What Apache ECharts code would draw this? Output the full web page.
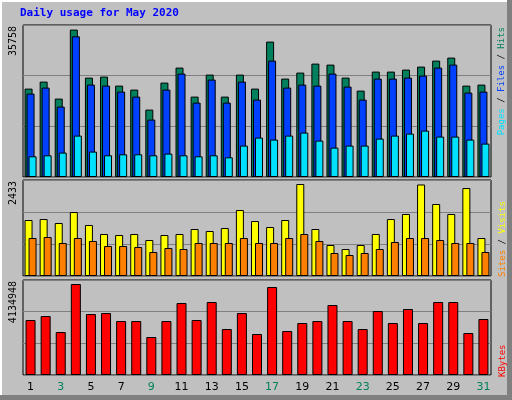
<!DOCTYPE html>
<html>
<head>
<meta charset="utf-8">
<script src="https://cdn.jsdelivr.net/npm/echarts@6/dist/echarts.min.js"></script>
<style>
  html, body { margin: 0; padding: 0; background: #c0c0c0; }
  #chart { width: 512px; height: 400px; }
</style>
</head>
<body>
<div id="chart"></div>
<script>
// 日期
const days = ['1','2','3','4','5','6','7','8','9','10','11','12','13','14','15','16','17','18','19','20','21','22','23','24','25','26','27','28','29','30','31'];
const weekend = ['2','3','9','10','16','17','23','24','30','31'];
// 数据
const hits = [21446,23144,19020,35758,24114,24357,22174,21203,16351,22901,26541,19505,24842,19505,24842,21446,32847,23872,25327,27511,27268,24114,20961,25570,25570,26055,26783,28239,28966,22174,22416];
const files = [20233,21688,17079,34133,22416,22174,20718,19505,13925,21203,25084,18049,23629,18049,23144,18777,28239,21688,22416,22174,25084,21931,18777,23872,23872,24114,24599,26541,27268,20475,20718];
const pages = [5022,5264,5919,10044,6162,5264,5507,5507,5264,5677,5264,5022,5264,4779,7618,9558,9073,10044,10771,8831,7132,7618,7618,9316,10044,10529,11257,9801,9801,9073,8103];
const visits = [1481,1507,1402,1692,1349,1111,1084,1111,952,1084,1111,1243,1190,1269,1745,1454,1296,1481,2433,1243,820,714,820,1111,1507,1640,2420,1904,1640,2327,1005];
const sites = [1005,1031,873,1005,926,793,793,767,635,740,714,873,873,873,1005,873,873,1005,1111,926,608,555,608,714,899,1005,1005,952,873,873,635];
const kbytes = [2499090,2680842,1953834,4134948,2771718,2817156,2453652,2453652,1726644,2453652,3271536,2499090,3316974,2090148,2817156,1862958,3998544,1999272,2362776,2453652,3180660,2453652,2090148,2908032,2362776,2998908,2362776,3316974,3316974,1908396,2544528];

const maxHits = 35758, maxVisits = 2433, maxKB = 4134948;
const yMax = [36874, 2539, 4316704];

const chart = echarts.init(document.getElementById('chart'));
const mono = 'DejaVu Sans Mono';

function grid(top, height) {
    return { left: 23, right: 21, top: top, height: height, show: true,
        borderColor: '#000', borderWidth: 1, backgroundColor: '#c0c0c0' };
}
function xAxis(i, labels) {
    return { type: 'category', gridIndex: i, data: days,
        axisLine: { show: false }, axisTick: { show: false },
        axisLabel: labels ? {
            show: true, fontFamily: 'DejaVu Sans', fontSize: 11, margin: 7,
            color: function (v) { return weekend.indexOf(v) >= 0 ? '#00805c' : '#000'; }
        } : { show: false } };
}
function yAxis(i) {
    return { type: 'value', gridIndex: i, min: 0, max: yMax[i], interval: yMax[i] / 3,
        axisLabel: { show: false }, axisLine: { show: false }, axisTick: { show: false },
        splitLine: { lineStyle: { color: '#808080', width: 1 } } };
}
function bar(name, data, i, color, width, gap) {
    return { name: name, type: 'bar', xAxisIndex: i, yAxisIndex: i, data: data,
        barWidth: width, barGap: gap, animation: false, silent: true,
        itemStyle: { color: color, borderColor: '#000', borderWidth: 1 } };
}
function vtext(x, y, align, rich, text, size) {
    return { type: 'text', x: x, y: y, rotation: Math.PI / 2,
        style: { text: text, align: align, verticalAlign: 'middle',
            font: (size || 9) + 'px ' + mono, rich: rich } };
}

chart.setOption({
    backgroundColor: '#c0c0c0',
    grid: [grid(25, 152), grid(180, 96), grid(280, 95)],
    xAxis: [xAxis(0, false), xAxis(1, false), xAxis(2, true)],
    yAxis: [yAxis(0), yAxis(1), yAxis(2)],
    series: [
        bar('Hits', hits, 0, '#00805c', 8, '-75%'),
        bar('Files', files, 0, '#0040ff', 8, '-75%'),
        bar('Pages', pages, 0, '#00e0ff', 8, '-75%'),
        bar('Visits', visits, 1, '#ffff00', 8, '-50%'),
        bar('Sites', sites, 1, '#ff8000', 8, '-50%'),
        bar('KBytes', kbytes, 2, '#ff0000', 10, '0%')
    ],
    graphic: [
        { type: 'rect', shape: { x: 0, y: 0, width: 512, height: 2 }, style: { fill: '#fff' } },
        { type: 'rect', shape: { x: 0, y: 0, width: 2, height: 400 }, style: { fill: '#fff' } },
        { type: 'rect', shape: { x: 507, y: 0, width: 5, height: 400 }, style: { fill: '#808080' } },
        { type: 'rect', shape: { x: 0, y: 395, width: 512, height: 5 }, style: { fill: '#808080' } },
        { type: 'text', x: 20, y: 13, style: { text: 'Daily usage for May 2020', fill: '#0000ff',
            font: 'bold 11px ' + mono, verticalAlign: 'middle' } },
        vtext(13, 26, 'right', {}, String(maxHits), 10),
        vtext(13, 181, 'right', {}, String(maxVisits), 10),
        vtext(13, 281, 'right', {}, String(maxKB), 10),
        vtext(502, 27, 'right', { p: { fill: '#00e0ff' }, f: { fill: '#0040ff' }, h: { fill: '#00805c' }, k: { fill: '#000' } },
            '{p|Pages}{k| / }{f|Files}{k| / }{h|Hits}'),
        vtext(503, 277, 'left', { s: { fill: '#ff8000' }, v: { fill: '#ffff00' }, k: { fill: '#000' } },
            '{s|Sites}{k| / }{v|Visits}'),
        vtext(503, 377, 'left', { r: { fill: '#ff0000' } }, '{r|KBytes}')
    ]
});
</script>
</body>
</html>
